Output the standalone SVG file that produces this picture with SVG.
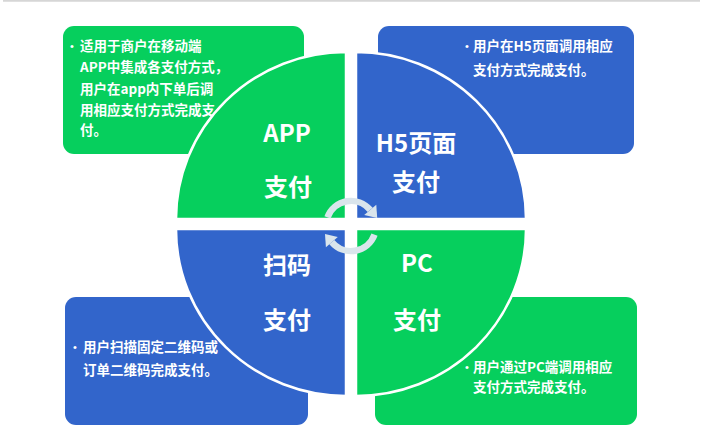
<svg xmlns="http://www.w3.org/2000/svg" width="703" height="446" viewBox="0 0 703 446">
<style>
.g{fill:#06CF5D}
.b{fill:#3265CB}
.q{stroke:#FFFFFF;stroke-width:2.5}
.t{font-family:"Noto Sans CJK SC","Liberation Sans",sans-serif;font-size:13.5px;font-weight:bold;fill:#FFFFFF}
.d{font-family:"Liberation Sans",sans-serif;font-size:11px;fill:#FFFFFF}
.L{font-family:"Noto Sans CJK SC","Liberation Sans",sans-serif;font-size:24px;font-weight:bold;fill:#FFFFFF;text-anchor:middle}
.arc{fill:none;stroke:#DAE5EC;stroke-width:6.5}
.ah{fill:#DAE5EC}
</style>
<rect width="703" height="446" fill="#FFFFFF"/>
<line x1="3" y1="0.8" x2="700" y2="0.8" stroke="#D6D6D6" stroke-width="2"/>

<g id="box-app">
<rect class="g" x="63" y="26" width="241" height="128" rx="11"/>
<text class="d" x="70" y="50">•</text>
<text class="t" x="80" y="51">适用于商户在移动端</text>
<text class="t" x="80" y="72">APP中集成各支付方式，</text>
<text class="t" x="80" y="94">用户在app内下单后调</text>
<text class="t" x="80" y="115">用相应支付方式完成支</text>
<text class="t" x="80" y="135">付。</text>
</g>
<g id="box-h5">
<rect class="b" x="378" y="26" width="256" height="128" rx="11"/>
<text class="d" x="465" y="50">•</text>
<text class="t" x="473" y="51">用户在H5页面调用相应</text>
<text class="t" x="473" y="75">支付方式完成支付。</text>
</g>
<g id="box-scan">
<rect class="b" x="65" y="297" width="243" height="128" rx="11"/>
<text class="d" x="73" y="351">•</text>
<text class="t" x="83" y="352">用户扫描固定二维码或</text>
<text class="t" x="83" y="375">订单二维码完成支付。</text>
</g>
<g id="box-pc">
<rect class="g" x="375" y="297" width="262" height="128" rx="11"/>
<text class="d" x="465" y="371">•</text>
<text class="t" x="473" y="372">用户通过PC端调用相应</text>
<text class="t" x="473" y="392">支付方式完成支付。</text>
</g>

<g id="q-app">
<path class="g q" d="M346,219 L176,219 A170,167 0 0 1 346,52 Z"/>
<text class="L" x="287" y="141.5">APP</text>
<text class="L" x="288" y="196">支付</text>
</g>
<g id="q-h5">
<path class="b q" d="M356,219 L356,52 A170,167 0 0 1 526,219 Z"/>
<text class="L" x="416" y="152">H5页面</text>
<text class="L" x="416" y="191">支付</text>
</g>
<g id="q-scan">
<path class="b q" d="M346,229 L346,396 A170,167 0 0 1 176,229 Z"/>
<text class="L" x="287" y="274">扫码</text>
<text class="L" x="287" y="329">支付</text>
</g>
<g id="q-pc">
<path class="g q" d="M356,229 L526,229 A170,167 0 0 1 356,396 Z"/>
<text class="L" x="417" y="271.5">PC</text>
<text class="L" x="417" y="329">支付</text>
</g>

<g id="connectors">
<path class="arc" d="M327.5,217.4 A25,25 0 0 1 370.2,209.9"/>
<polygon class="ah" points="376.3,204.8 364.2,215 377.2,218"/>
<path class="arc" d="M374.5,234.6 A25,25 0 0 1 331.8,242.1"/>
<polygon class="ah" points="325.9,247.2 337.8,237 325,234"/>
</g>
</svg>
